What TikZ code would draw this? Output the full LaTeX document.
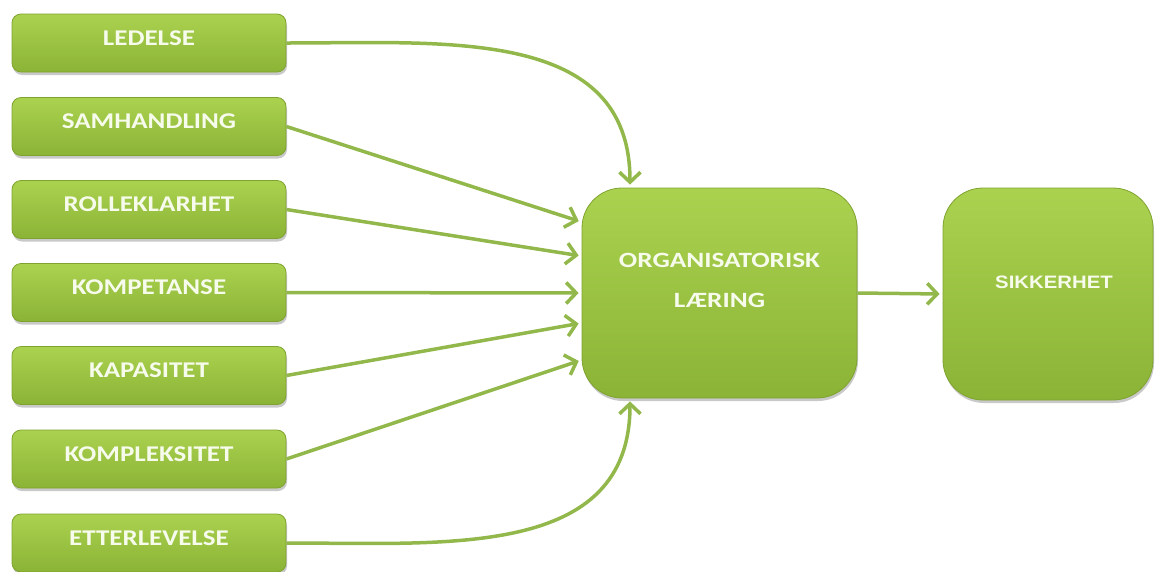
\documentclass[tikz,border=0pt]{standalone}
\usepackage{fontspec}
\usetikzlibrary{arrows.meta,shadows}
\newfontfamily\boxfont[FakeStretch=1.2]{Carlito}
\newfontfamily\midfont[FakeStretch=1.25]{Carlito}
\newfontfamily\endfont[FakeStretch=1.13]{Liberation Sans}
\definecolor{gtop}{HTML}{ABD24F}
\definecolor{gbot}{HTML}{8BB336}
\definecolor{gedge}{HTML}{7FA32F}
\definecolor{garrow}{HTML}{92B84B}
\definecolor{gtext}{HTML}{F6FBEC}
\tikzset{
  greenbox/.style={draw=gedge, line width=0.8pt, top color=gtop, bottom color=gbot,
    drop shadow={shadow xshift=1pt, shadow yshift=-3pt, opacity=0.3, fill=black!70}},
  factor/.style={greenbox, rounded corners=9pt, minimum width=274pt, minimum height=58pt,
    inner sep=0pt, text=gtext, font=\boxfont\bfseries\fontsize{22.5}{26}\selectfont,
    text height=15pt, text depth=11pt},
  bigbox/.style={greenbox, rounded corners=40pt, inner sep=0pt},
  flow/.style={draw=garrow, line width=3.5pt,
    -{Straight Barb[length=10pt, width=21pt, line width=3.5pt]}, shorten >=3pt},
}
\begin{document}
\begin{tikzpicture}[x=1pt, y=-1pt]
  \useasboundingbox (0,0) rectangle (1162,571);
  % input factors
  \node[factor] (led) at (149,43)    {LEDELSE};
  \node[factor] (sam) at (149,126.5) {SAMHANDLING};
  \node[factor] (rol) at (149,209.5) {ROLLEKLARHET};
  \node[factor] (kom) at (149,292.5) {KOMPETANSE};
  \node[factor] (kap) at (149,375.5) {KAPASITET};
  \node[factor] (kpx) at (149,459)   {KOMPLEKSITET};
  \node[factor] (ett) at (149,543)   {ETTERLEVELSE};
  % central and outcome boxes
  \node[bigbox, minimum width=275pt, minimum height=210pt] (org) at (719.5,293) {};
  \node[text=gtext, font=\midfont\bfseries\fontsize{21.8}{40}\selectfont, align=center]
    (orgtxt) at (719.5,280) {ORGANISATORISK\\LÆRING};
  \node[bigbox, minimum width=210pt, minimum height=212pt] (sik) at (1048,294) {};
  \node[text=gtext, font=\endfont\bfseries\fontsize{18}{22}\selectfont]
    (siktxt) at (1054,282) {SIKKERHET};
  % connectors
  \draw[flow] (led.east) to[out=0, in=90, looseness=1.1] ([xshift=-89.5pt]org.north);
  \draw[flow] (sam.east) -- ([yshift=71pt]org.west);
  \draw[flow] (rol.east) -- ([yshift=37pt]org.west);
  \draw[flow] (kom.east) -- (org.west);
  \draw[flow] (kap.east) -- ([yshift=-30pt]org.west);
  \draw[flow] (kpx.east) -- ([yshift=-67pt]org.west);
  \draw[flow] (ett.east) to[out=0, in=-90, looseness=1.1] ([xshift=-89.5pt]org.south);
  \draw[flow] (org.east) -- (sik.west);
\end{tikzpicture}
\end{document}
